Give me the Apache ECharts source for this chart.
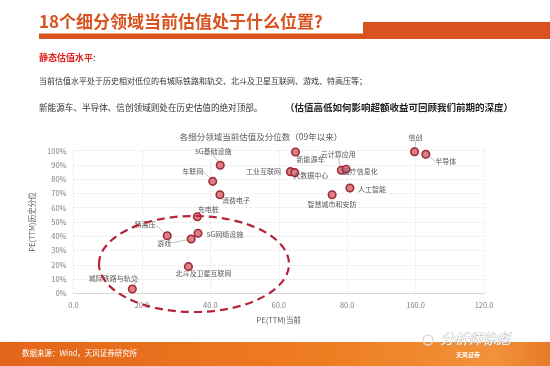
<!DOCTYPE html>
<html><head><meta charset="utf-8">
<script src="https://cdn.jsdelivr.net/npm/echarts@6/dist/echarts.min.js"></script>
<style>html,body{margin:0;padding:0;background:#fff;}#c{width:550px;height:366px;}</style>
</head><body><div id="c"></div>
<script>
const names = ['信创','半导体','新能源车','工业互联网','大数据中心','云计算应用','医疗信息化','人工智能','智慧城市和安防','5G基础设施','车联网','消费电子','充电桩','特高压','游戏','5G网络设施','北斗及卫星互联网','城际铁路与轨交'];
const peCurrent = [99.7, 103.0, 64.9, 63.4, 64.7, 78.3, 79.7, 80.8, 75.6, 42.9, 40.7, 42.8, 36.2, 27.4, 34.4, 36.4, 33.6, 17.2];
const pePercentile = [99.3, 97.5, 99.1, 85.3, 84.6, 86.3, 87.0, 73.8, 69.1, 89.8, 78.5, 69.1, 53.7, 40.4, 38.1, 42.1, 18.7, 3.0];
const xTicks = [0, 20, 40, 60, 80, 100, 120];
const yTicks = [0, 10, 20, 30, 40, 50, 60, 70, 80, 90, 100];

// label placement (pixel offsets of label centre from the point) - styling only
const labelOffsets = {
  '信创':[1,-14,true], '半导体':[20,7,true], '新能源车':[15,7,false], '工业互联网':[-27,0,false],
  '大数据中心':[16,3,false], '云计算应用':[-3,-16,true], '医疗信息化':[14,2,false], '人工智能':[22,1,false],
  '智慧城市和安防':[0,10,false], '5G基础设施':[-7,-14,true], '车联网':[-20,-10,true], '消费电子':[16,6,false],
  '充电桩':[11,-7,false], '特高压':[-22,-11,true], '游戏':[-27,4,true], '5G网络设施':[27,1,false],
  '北斗及卫星互联网':[15,7,false], '城际铁路与轨交':[-19,-11,true]
};

const chart = echarts.init(document.getElementById('c'), null, {renderer:'canvas'});
const data = names.map((n,i)=>({
  name:n, value:[peCurrent[i], pePercentile[i]],
  labelLine:{show: labelOffsets[n][2]}
}));
const F = '"Microsoft YaHei","Noto Sans CJK SC",sans-serif';
const orange = '#d8531f';

chart.setOption({
  animation:false,
  backgroundColor:'#fff',
  textStyle:{fontFamily:F},
  title:{text:'各细分领域当前估值及分位数（09年以来）', left:256, top:128, textAlign:'center',
    textStyle:{fontSize:8.5, fontWeight:'normal', color:'#595959', fontFamily:F}},
  grid:{left:73.5, right:66, top:150.7, bottom:72.7},
  xAxis:{type:'value', min:xTicks[0], max:xTicks[xTicks.length-1], interval:20,
    name:'PE(TTM)当前', nameLocation:'middle', nameGap:23,
    nameTextStyle:{fontSize:7.5, color:'#595959'},
    axisLine:{show:true, lineStyle:{color:'#d9d9d9'}}, axisTick:{show:false},
    axisLabel:{fontSize:7.5, color:'#7f7f7f', margin:8, formatter:v=>v.toFixed(1)},
    splitLine:{show:true, lineStyle:{color:'#e0e0e0', type:[2,2], width:0.8}}},
  yAxis:{type:'value', min:yTicks[0], max:yTicks[yTicks.length-1], interval:10,
    name:'PE(TTM)历史分位', nameLocation:'middle', nameGap:27, nameRotate:90,
    nameTextStyle:{fontSize:7.5, color:'#595959'},
    axisLine:{show:false}, axisTick:{show:false},
    axisLabel:{fontSize:7.5, color:'#7f7f7f', margin:7, formatter:v=>v+'%'},
    splitLine:{show:true, lineStyle:{color:'#e0e0e0', type:[2,2], width:0.8}}},
  series:[{
    type:'scatter', data:data, symbolSize:7.5,
    itemStyle:{color:'#dd7f86', borderColor:'#9e2b37', borderWidth:1.6, opacity:1},
    label:{show:true, position:'inside', formatter:p=>p.name, fontSize:7, color:'#595959'},
    labelLine:{show:true, lineStyle:{color:'#a6a6a6', width:0.7}},
    labelLayout:function(p){ const o = labelOffsets[names[p.dataIndex]]; return {dx:o[0], dy:o[1]}; },
    z:3
  }],
  graphic:[
    {type:'text', left:39, top:13, style:{text:'18个细分领域当前估值处于什么位置?', fill:orange, font:'bold 17px '+F}},
    {type:'rect', shape:{x:39, y:33.5, width:330, height:5.5}, style:{fill:orange}},
    {type:'rect', shape:{x:363, y:22, width:187, height:17}, style:{fill:orange}},
    {type:'text', left:39, top:53, style:{text:'静态估值水平', fill:'#e0201c', font:'bold 9px '+F}},
    {type:'text', left:93, top:53, style:{text:':', fill:'#333', font:'9px '+F}},
    {type:'text', left:39, top:76.5, style:{text:'当前估值水平处于历史相对低位的有城际铁路和轨交、北斗及卫星互联网、游戏、特高压等；', fill:'#333', font:'8px '+F}},
    {type:'text', left:39, top:103.5, style:{text:'新能源车、半导体、信创领域则处在历史估值的绝对顶部。', fill:'#333', font:'8.6px '+F}},
    {type:'text', left:285, top:103, style:{text:'（估值高低如何影响超额收益可回顾我们前期的深度）', fill:'#222', font:'bold 9.5px '+F}},
    {type:'ellipse', shape:{cx:194, cy:264, rx:95, ry:48},
      style:{fill:'none', stroke:'#b3263a', lineWidth:2.2, lineDash:[8,5]}, z:10},
    {type:'rect', shape:{x:0, y:342, width:550, height:24},
      style:{fill:new echarts.graphic.LinearGradient(0,0,1,0,[{offset:0,color:'#e3651a'},{offset:0.6,color:'#ee7d22'},{offset:0.9,color:'#f2923a'},{offset:1,color:'#e67a28'}])}},
    {type:'text', left:22, top:349, style:{text:'数据来源：Wind，天风证券研究所', fill:'#fff', font:'7.5px '+F}},
    {type:'circle', shape:{cx:428, cy:340, r:5}, style:{fill:'none', stroke:'#ddd', lineWidth:1.5}, z:20},
    {type:'text', left:440, top:331, style:{text:'分析师徐彪', fill:'#fff', stroke:'#aaa', lineWidth:0.6, font:'italic 14px '+F}, z:20},
    {type:'text', left:456, top:352, style:{text:'天风证券', fill:'#fff', font:'bold 6px '+F}, z:20}
  ]
});
</script></body></html>
